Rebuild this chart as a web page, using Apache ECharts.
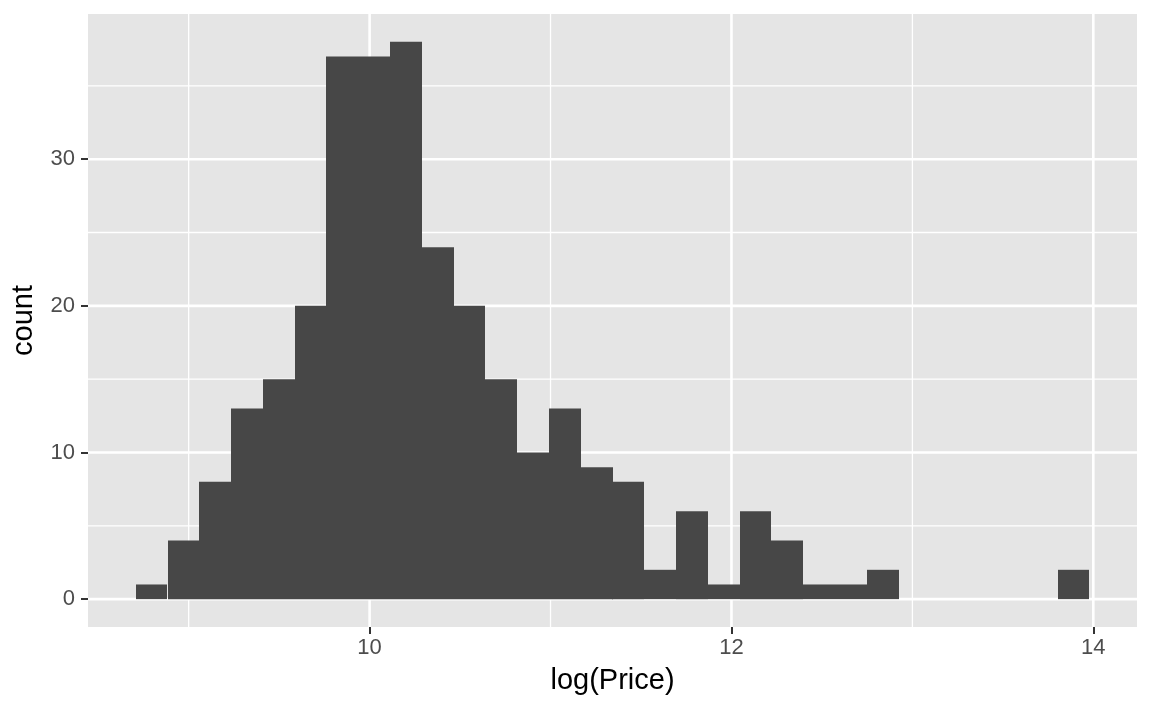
<!DOCTYPE html>
<html><head><meta charset="utf-8">
<script src="https://cdn.jsdelivr.net/npm/echarts@6/dist/echarts.min.js"></script>
<style>html,body{margin:0;padding:0;background:#fff}#c{width:1152px;height:711px}</style>
</head><body><div id="c"></div>
<script>
// Histogram bins of log(Price): bin centres and counts
const binCenters = [8.795, 8.971, 9.146, 9.322, 9.498, 9.673, 9.849, 10.025, 10.200, 10.376,
                    10.552, 10.727, 10.903, 11.079, 11.255, 11.430, 11.606, 11.782, 11.957, 12.133,
                    12.309, 12.484, 12.660, 12.836, 13.011, 13.187, 13.363, 13.538, 13.714, 13.890];
const binWidth = 0.1757;
const counts = [1, 4, 8, 13, 15, 20, 37, 37, 38, 24,
                20, 15, 10, 13, 9, 8, 2, 6, 1, 6,
                4, 1, 1, 2, 0, 0, 0, 0, 0, 2];
const xTicks = [10, 12, 14];
const xMinor = [9, 11, 13];
const yTicks = [0, 10, 20, 30];
const yMinor = [5, 15, 25, 35];

const FONT = '"Liberation Sans", Arial, Helvetica, sans-serif';

// ggplot-like 5% expansion of the scale range
const lo = binCenters[0] - binWidth / 2;
const hi = binCenters[binCenters.length - 1] + binWidth / 2;
const span = hi - lo;
const xMin = lo - 0.05 * span, xMax = hi + 0.05 * span;
const cMax = Math.max.apply(null, counts);
const yMin = -0.05 * cMax, yMax = cMax * 1.05;

const barData = binCenters.map((c, i) => [c, counts[i]]);
const vLines = xTicks.map(v => [v, 0, 1]).concat(xMinor.map(v => [v, 0, 0]));
const hLines = yTicks.map(v => [xMin, v, 1]).concat(yMinor.map(v => [xMin, v, 0]));

const chart = echarts.init(document.getElementById('c'), null, {renderer: 'canvas'});
chart.setOption({
  animation: false,
  backgroundColor: '#ffffff',
  grid: {left: 88, right: 15, top: 14, bottom: 84, show: true, backgroundColor: '#e5e5e5', borderWidth: 0},
  xAxis: {
    type: 'value', min: xMin, max: xMax,
    axisLine: {show: false, onZero: false},
    splitLine: {show: false},
    axisTick: {show: true, length: 7, lineStyle: {color: '#333333', width: 2}, customValues: xTicks},
    axisLabel: {customValues: xTicks, margin: 10, fontSize: 22, color: '#4d4d4d', fontFamily: FONT},
    name: 'log(Price)', nameLocation: 'middle', nameGap: 39,
    nameTextStyle: {fontSize: 29, color: '#000000', fontFamily: FONT}
  },
  yAxis: {
    type: 'value', min: yMin, max: yMax,
    axisLine: {show: false, onZero: false},
    splitLine: {show: false},
    axisTick: {show: true, length: 7, lineStyle: {color: '#333333', width: 2}, customValues: yTicks},
    axisLabel: {customValues: yTicks, margin: 13, fontSize: 22, color: '#4d4d4d', fontFamily: FONT},
    name: 'count', nameLocation: 'middle', nameGap: 50, nameRotate: 90,
    nameTextStyle: {fontSize: 29, color: '#000000', fontFamily: FONT}
  },
  series: [
    {
      type: 'custom', z: 1, silent: true,
      data: vLines,
      renderItem: function (params, api) {
        const cs = params.coordSys;
        const x = api.coord([api.value(0), 0])[0];
        const major = api.value(2) === 1;
        return {type: 'line', shape: {x1: x, y1: cs.y, x2: x, y2: cs.y + cs.height},
                style: {stroke: '#ffffff', lineWidth: major ? 2.6 : 1.3}};
      }
    },
    {
      type: 'custom', z: 1, silent: true,
      data: hLines,
      renderItem: function (params, api) {
        const cs = params.coordSys;
        const y = api.coord([xMin, api.value(1)])[1];
        const major = api.value(2) === 1;
        return {type: 'line', shape: {x1: cs.x, y1: y, x2: cs.x + cs.width, y2: y},
                style: {stroke: '#ffffff', lineWidth: major ? 2.6 : 1.3}};
      }
    },
    {
      type: 'custom', z: 2, silent: true,
      data: barData,
      renderItem: function (params, api) {
        const c = api.value(0), v = api.value(1);
        if (!v) return null;
        const p1 = api.coord([c - binWidth / 2, v]);
        const p2 = api.coord([c + binWidth / 2, 0]);
        const x1 = Math.round(p1[0]), x2 = Math.round(p2[0]);
        return {type: 'rect', shape: {x: x1, y: p1[1], width: x2 - x1, height: p2[1] - p1[1]},
                style: {fill: '#474747', stroke: null}};
      }
    }
  ]
});
</script>
</body></html>
